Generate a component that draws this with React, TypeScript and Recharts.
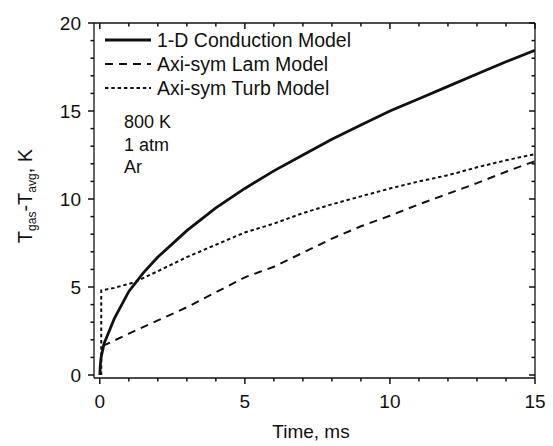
import { LineChart, Line, XAxis, YAxis } from 'recharts';

const FONT = '"Liberation Sans", Arial, Helvetica, sans-serif';
const INK = '#111';

// plot frame edges (chart margins + axis sizes below)
const FRAME = { left: 94, right: 535, top: 23, bottom: 378 };

// axis ticks (minor every unit, labels on the majors only)
const timeTicks = [0, 1, 2, 3, 4, 5, 6, 7, 8, 9, 10, 11, 12, 13, 14, 15];
const timeMajor = [0, 5, 10, 15];
const tempTicks = [0, 1, 2, 3, 4, 5, 6, 7, 8, 9, 10, 11, 12, 13, 14, 15, 16, 17, 18, 19, 20];
const tempMajor = [0, 5, 10, 15, 20];

// 1-D Conduction Model
const condTime = [0, 0.02, 0.05, 0.15, 0.5, 1, 1.5, 2, 3, 4, 5, 6, 7, 8, 9, 10, 11, 12, 13, 14, 15];
const condTemp = [0, 0.6, 1.05, 1.8, 3.2, 4.75, 5.8, 6.7, 8.2, 9.5, 10.6, 11.6, 12.5, 13.4, 14.2, 15.0, 15.7, 16.4, 17.1, 17.8, 18.45];

// Axi-sym Lam Model
const lamTime = [0.1, 1, 2, 3, 4, 5, 5.5, 6, 7, 8, 9, 10, 11, 12, 13, 14, 15];
const lamTemp = [1.65, 2.35, 3.1, 3.85, 4.7, 5.55, 5.85, 6.15, 6.95, 7.75, 8.45, 9.05, 9.7, 10.3, 10.9, 11.55, 12.15];

// Axi-sym Turb Model
const turbTime = [0.05, 0.05, 0.5, 1.2, 2, 3, 4, 5, 6, 7, 8, 9, 10, 11, 12, 13, 14, 15];
const turbTemp = [0, 4.8, 4.95, 5.27, 5.9, 6.7, 7.4, 8.1, 8.6, 9.2, 9.7, 10.15, 10.6, 11.0, 11.35, 11.8, 12.2, 12.55];

const notes = ['800 K', '1 atm', 'Ar'];

const toPoints = (t: number[], v: number[]) => t.map((x, i) => ({ t: x, v: v[i] }));

const series = [
  { name: '1-D Conduction Model', data: toPoints(condTime, condTemp), width: 2.8, dash: undefined },
  { name: 'Axi-sym Lam Model', data: toPoints(lamTime, lamTemp), width: 2, dash: '8 6' },
  { name: 'Axi-sym Turb Model', data: toPoints(turbTime, turbTemp), width: 2, dash: '3.5 2.8' },
];

// Origin-style ticks, same direction on both sides of the frame:
// bottom ticks point out + mirrored top ticks point in, and likewise left/right.
const TimeTick = (props: any) => {
  const { x, payload } = props;
  const value = payload.value;
  const isMajor = timeMajor.includes(value);
  const len = isMajor ? 6 : 3.5;
  return (
    <g>
      <path d={`M${x},${FRAME.top}V${FRAME.top + len}`} stroke={INK} strokeWidth={1.5} fill="none" />
      <path d={`M${x},${FRAME.bottom}V${FRAME.bottom + len}`} stroke={INK} strokeWidth={1.5} fill="none" />
      {isMajor && (
        <text x={x} y={FRAME.bottom + 30} textAnchor="middle" fontSize={19} fontFamily={FONT} fill={INK}>
          {value}
        </text>
      )}
    </g>
  );
};

const TempTick = (props: any) => {
  const { y, payload } = props;
  const value = payload.value;
  const isMajor = tempMajor.includes(value);
  const len = isMajor ? 6 : 3.5;
  return (
    <g>
      <path d={`M${FRAME.left - len},${y}H${FRAME.left}`} stroke={INK} strokeWidth={1.5} fill="none" />
      <path d={`M${FRAME.right - len},${y}H${FRAME.right}`} stroke={INK} strokeWidth={1.5} fill="none" />
      {isMajor && (
        <text x={FRAME.left - 13} y={y + 6.6} textAnchor="end" fontSize={19} fontFamily={FONT} fill={INK}>
          {value}
        </text>
      )}
    </g>
  );
};

export default function App() {
  return (
    <div style={{ position: 'absolute', left: 0, top: 0, width: 553, height: 446, background: '#fff' }}>
      <LineChart width={553} height={446} margin={{ top: 22, right: 17, bottom: 0, left: 0 }}>
        <XAxis
          dataKey="t"
          type="number"
          domain={[-0.2, 15]}
          allowDataOverflow
          height={68}
          tick={false}
          tickLine={false}
          axisLine={{ stroke: INK, strokeWidth: 1.3 }}
        />
        <XAxis
          xAxisId="top"
          dataKey="t"
          orientation="top"
          type="number"
          domain={[-0.2, 15]}
          allowDataOverflow
          ticks={timeTicks}
          interval={0}
          height={1}
          tickSize={0}
          tickMargin={0}
          tickLine={false}
          axisLine={{ stroke: INK, strokeWidth: 1.3 }}
          tick={<TimeTick />}
        />
        <YAxis
          type="number"
          domain={[-0.17, 20]}
          allowDataOverflow
          width={94}
          tick={false}
          tickLine={false}
          axisLine={{ stroke: INK, strokeWidth: 1.3 }}
        />
        <YAxis
          yAxisId="right"
          orientation="right"
          type="number"
          domain={[-0.17, 20]}
          allowDataOverflow
          ticks={tempTicks}
          interval={0}
          width={1}
          tickSize={0}
          tickMargin={0}
          tickLine={false}
          axisLine={{ stroke: INK, strokeWidth: 1.3 }}
          tick={<TempTick />}
        />
        {series.map((s) => (
          <Line
            key={s.name}
            data={s.data}
            dataKey="v"
            name={s.name}
            type="linear"
            stroke={INK}
            strokeWidth={s.width}
            strokeDasharray={s.dash}
            dot={false}
            activeDot={false}
            isAnimationActive={false}
          />
        ))}
        {/* invisible copy so the mirrored frame axes have data bound to them */}
        <Line
          xAxisId="top"
          yAxisId="right"
          data={series[0].data}
          dataKey="v"
          stroke="none"
          dot={false}
          activeDot={false}
          legendType="none"
          isAnimationActive={false}
        />
      </LineChart>
      <svg
        width={553}
        height={446}
        style={{ position: 'absolute', left: 0, top: 0, pointerEvents: 'none' }}
        fontFamily={FONT}
        fill={INK}
      >
        {series.map((s, i) => (
          <g key={s.name}>
            <line x1={105} x2={151} y1={40 + i * 24} y2={40 + i * 24} stroke={INK} strokeWidth={s.width} strokeDasharray={s.dash} />
            <text x={157} y={47 + i * 24} fontSize={19.5}>
              {s.name}
            </text>
          </g>
        ))}
        {notes.map((n, i) => (
          <text key={n} x={124} y={128 + i * 22.7} fontSize={18}>
            {n}
          </text>
        ))}
        <text x={311} y={438} textAnchor="middle" fontSize={19}>
          Time, ms
        </text>
        <text transform="rotate(-90)" x={-196} y={32} textAnchor="middle" fontSize={20}>
          T
          <tspan fontSize={12} dy={4}>gas</tspan>
          <tspan dy={-4}>-T</tspan>
          <tspan fontSize={12} dy={4}>avg</tspan>
          <tspan dy={-4}>, K</tspan>
        </text>
      </svg>
    </div>
  );
}
